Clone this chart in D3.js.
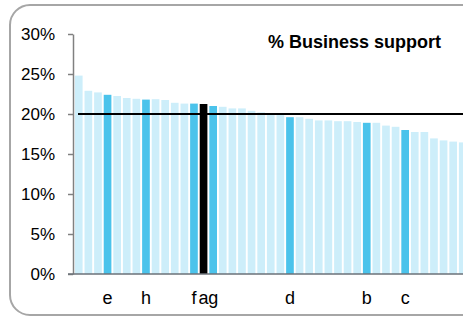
<!DOCTYPE html>
<html>
<head>
<meta charset="utf-8">
<script src="https://cdn.jsdelivr.net/npm/d3@7"></script>
<style>
  body { margin: 0; background: #fff; }
  svg { display: block; font-family: "Liberation Sans", Arial, sans-serif; }
</style>
</head>
<body>
<div id="chart"></div>
<script>
// bar values (% business support), sorted high to low
const values = [24.8, 22.9, 22.7, 22.4, 22.25, 22.0, 21.9, 21.8, 21.85, 21.75,
  21.4, 21.3, 21.3, 21.25, 21.0, 20.9, 20.7, 20.7, 20.4, 20.2,
  20.1, 20.0, 19.6, 19.6, 19.4, 19.2, 19.2, 19.1, 19.1, 19.0,
  18.9, 18.9, 18.55, 18.4, 18.0, 17.75, 17.75, 16.95, 16.7, 16.55, 16.45];
// category labels, only the highlighted ones are named
const labels = ['', '', '', 'e', '', '', '', 'h', '', '',
  '', '', 'f', 'a', 'g', '', '', '', '', '',
  '', '', 'd', '', '', '', '', '', '', '',
  'b', '', '', '', 'c', '', '', '', '', '', ''];
const yTicks = [0, 5, 10, 15, 20, 25, 30];
const benchmark = 20;
const title = '% Business support';

const width = 463, height = 317;
const margin = { L: 73, T: 34, B: 43 };

const svg = d3.select('#chart').append('svg')
  .attr('width', width).attr('height', height);

// rounded frame, right side runs off the picture
svg.append('rect')
  .attr('x', 10).attr('y', 5)
  .attr('width', 520).attr('height', 310)
  .attr('rx', 20).attr('ry', 20)
  .attr('fill', 'none')
  .attr('stroke', '#a6a6a6')
  .attr('stroke-width', 2);

const idx = values.map((d, i) => i);

const x = d3.scaleBand()
  .domain(idx)
  .range([margin.L, margin.L + 9.6 * 41.2])
  .paddingInner(0.2)
  .paddingOuter(0.2);

const y = d3.scaleLinear()
  .domain([0, 30])
  .range([height - margin.B, margin.T]);

function barColor(i) {
  if (labels[i] === 'a') return '#000000';
  if (labels[i] !== '') return '#4bc3eb';
  return '#cdeefa';
}

svg.append('g')
  .selectAll('rect')
  .data(values)
  .enter()
  .append('rect')
    .attr('x', (d, i) => x(i))
    .attr('y', d => y(d))
    .attr('width', x.bandwidth())
    .attr('height', d => y(0) - y(d))
    .attr('fill', (d, i) => barColor(i));

// y axis
const yAxis = d3.axisLeft(y)
  .tickValues(yTicks)
  .tickFormat(d => d + '%')
  .tickSizeInner(5)
  .tickSizeOuter(0)
  .tickPadding(13);

const gy = svg.append('g')
  .attr('transform', `translate(${margin.L}, 0)`)
  .call(yAxis);
gy.select('.domain').attr('stroke', '#808080').attr('stroke-width', 1.5);
gy.selectAll('.tick line').attr('stroke', '#808080').attr('stroke-width', 1.5);
gy.selectAll('.tick text')
  .attr('fill', '#000')
  .style('font-size', '17px')
  .style('font-family', '"Liberation Sans", Arial, sans-serif');

// x axis
const xAxis = d3.axisBottom(x)
  .tickFormat(i => labels[i])
  .tickSize(0)
  .tickPadding(17);

const gx = svg.append('g')
  .attr('transform', `translate(0, ${y(0)})`)
  .call(xAxis);
gx.select('.domain').remove();
gx.selectAll('.tick text')
  .attr('fill', '#000')
  .style('font-size', '18px')
  .style('font-family', '"Liberation Sans", Arial, sans-serif');

svg.append('line')
  .attr('x1', margin.L - 5).attr('x2', width)
  .attr('y1', y(0)).attr('y2', y(0))
  .attr('stroke', '#6b7278')
  .attr('stroke-width', 1.5);

// 20% benchmark line
svg.append('line')
  .attr('x1', margin.L + 5).attr('x2', width)
  .attr('y1', y(benchmark)).attr('y2', y(benchmark))
  .attr('stroke', '#000')
  .attr('stroke-width', 2);

svg.append('text')
  .text(title)
  .attr('x', 441)
  .attr('y', 48)
  .attr('text-anchor', 'end')
  .style('font-size', '18px')
  .style('font-weight', 'bold');
</script>
</body>
</html>
